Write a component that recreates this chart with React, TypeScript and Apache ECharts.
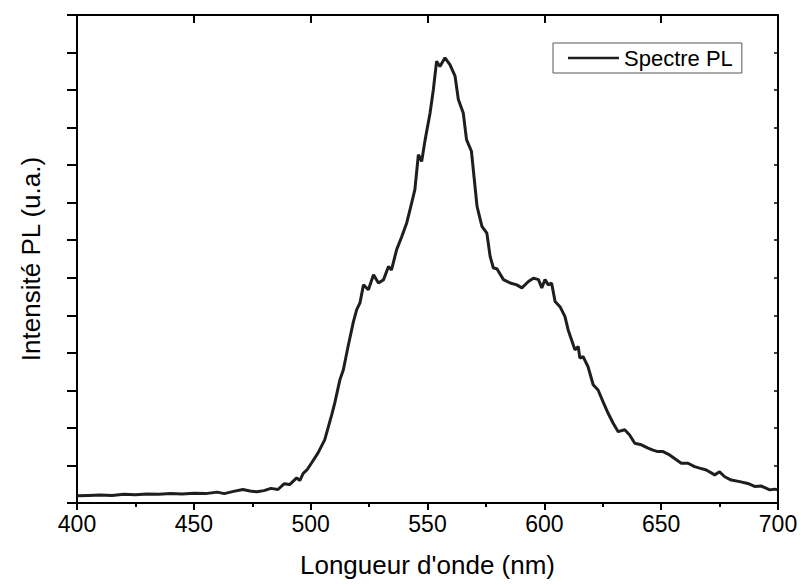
import React, { useEffect, useRef } from "react";
import * as echarts from "echarts";

const wavelengths: number[] = [
  400, 405, 410, 415, 420, 425, 430, 435, 440, 445, 450, 455, 460, 463, 467, 471, 474, 477, 480, 483,
  486, 488.6, 491, 494, 495.4, 496.8, 498.4, 500.3, 503.1, 506, 509, 510.3, 512.5, 514, 516, 518.3,
  519.7, 521.1, 522.6, 524.7, 526.9, 529, 531.2, 533.3, 534.6, 536.8, 539, 541.1, 542.5, 544.6, 546.1,
  547.5, 549, 551.1, 552.5, 553.9, 555.3, 557.5, 559.6, 561.8, 563.2, 565.3, 566.7, 568.8, 571.2, 573.3,
  575.4, 576.8, 578.2, 579.7, 582.5, 585.4, 588.2, 590.4, 593.2, 595.3, 597.5, 598.9, 600.3, 601.7,
  603.1, 604.6, 606.7, 608.8, 610.2, 613.1, 614.5, 615.2, 616.6, 618.7, 620.9, 623, 625.1, 627.3, 629.4,
  631.6, 634.4, 636.5, 638.7, 641.5, 644.4, 646.5, 648.6, 650.8, 653.6, 656.5, 658.6, 661.5, 664.3,
  666.5, 669.3, 672.9, 675, 677.2, 680, 683.6, 687.1, 690, 692.9, 696.5, 698.6, 700,
];

const intensities: number[] = [
  0.19, 0.2, 0.21, 0.2, 0.23, 0.22, 0.24, 0.23, 0.25, 0.24, 0.26, 0.25, 0.29, 0.25, 0.31, 0.36, 0.32,
  0.3, 0.33, 0.39, 0.36, 0.51, 0.49, 0.67, 0.6, 0.79, 0.88, 1.06, 1.33, 1.68, 2.35, 2.66, 3.28, 3.55,
  4.17, 4.83, 5.15, 5.33, 5.81, 5.68, 6.08, 5.86, 5.95, 6.3, 6.21, 6.75, 7.1, 7.46, 7.81, 8.35, 9.28,
  9.1, 9.68, 10.39, 11.01, 11.77, 11.63, 11.86, 11.68, 11.37, 10.75, 10.39, 9.68, 9.37, 7.9, 7.37,
  7.19, 6.57, 6.26, 6.24, 5.95, 5.86, 5.81, 5.73, 5.9, 5.99, 5.95, 5.73, 5.95, 5.81, 5.86, 5.37, 5.23,
  4.97, 4.61, 4.08, 4.17, 3.86, 3.9, 3.63, 3.15, 3.01, 2.7, 2.39, 2.13, 1.9, 1.95, 1.81, 1.59, 1.55,
  1.46, 1.41, 1.37, 1.37, 1.28, 1.15, 1.06, 1.06, 0.97, 0.93, 0.88, 0.75, 0.83, 0.7, 0.61, 0.57, 0.52,
  0.44, 0.45, 0.35, 0.37, 0.35,
];

const xTicks = [400, 450, 500, 550, 600, 650, 700];
const seriesName = "Spectre PL";
const xTitle = "Longueur d'onde (nm)";
const yTitle = "Intensité PL (u.a.)";

export default function App() {
  const ref = useRef<HTMLDivElement>(null);
  useEffect(() => {
    if (!ref.current) return;
    const chart = echarts.init(ref.current, undefined, { renderer: "svg" });
    const font = "Liberation Sans, Arial, sans-serif";
    const data = wavelengths.map((w, i) => [w, intensities[i]]);
    chart.setOption({
      animation: false,
      backgroundColor: "#ffffff",
      grid: { left: 77, right: 23, top: 15, bottom: 82, containLabel: false },
      legend: {
        show: true,
        left: 553,
        top: 43,
        orient: "horizontal",
        data: [{ name: seriesName, icon: "rect" }],
        itemWidth: 51,
        itemHeight: 2.5,
        padding: [4, 9, 4, 15],
        borderColor: "#555",
        borderWidth: 1,
        borderRadius: 0,
        itemStyle: { color: "#1e1e1e" },
        textStyle: { fontFamily: font, fontSize: 22, color: "#000", lineHeight: 22 },
      },
      xAxis: [
        {
          type: "value",
          position: "bottom",
          min: xTicks[0],
          max: xTicks[xTicks.length - 1],
          interval: 50,
          name: xTitle,
          nameLocation: "middle",
          nameGap: 49,
          nameTextStyle: { fontFamily: font, fontSize: 26, color: "#000" },
          axisLine: { show: true, onZero: false, lineStyle: { color: "#000", width: 2 } },
          axisTick: { show: true, inside: false, length: 7, lineStyle: { color: "#000", width: 2 } },
          minorTick: { show: true, splitNumber: 2, length: 4, lineStyle: { color: "#000", width: 2 } },
          axisLabel: { fontFamily: font, fontSize: 23, color: "#000", margin: 9 },
          splitLine: { show: false },
        },
        {
          type: "value",
          position: "top",
          min: xTicks[0],
          max: xTicks[xTicks.length - 1],
          interval: 50,
          axisLine: { show: true, onZero: false, lineStyle: { color: "#000", width: 2 } },
          axisTick: { show: true, inside: true, length: 8, lineStyle: { color: "#000", width: 2 } },
          axisLabel: { show: false },
          splitLine: { show: false },
        },
      ],
      yAxis: [
        {
          type: "value",
          position: "left",
          min: 0,
          max: 13,
          interval: 1,
          name: yTitle,
          nameLocation: "middle",
          nameGap: 33,
          nameTextStyle: { fontFamily: font, fontSize: 26, color: "#000" },
          axisLine: { show: true, onZero: false, lineStyle: { color: "#000", width: 2 } },
          axisTick: { show: true, inside: false, length: 10, lineStyle: { color: "#000", width: 2 } },
          axisLabel: { show: false },
          splitLine: { show: false },
        },
        {
          type: "value",
          position: "right",
          min: 0,
          max: 13,
          interval: 1,
          axisLine: { show: true, onZero: false, lineStyle: { color: "#000", width: 2 } },
          axisTick: { show: true, inside: true, length: 4, lineStyle: { color: "#000", width: 1.5 } },
          axisLabel: { show: false },
          splitLine: { show: false },
        },
      ],
      series: [
        {
          name: seriesName,
          type: "line",
          xAxisIndex: 0,
          yAxisIndex: 0,
          data,
          symbol: "none",
          showSymbol: false,
          smooth: false,
          lineStyle: { color: "#1e1e1e", width: 3 },
          itemStyle: { color: "#1e1e1e" },
        },
      ],
    });
    return () => chart.dispose();
  }, []);
  return (
    <div
      ref={ref}
      style={{ position: "fixed", left: 0, top: 0, width: 801, height: 585, background: "#fff" }}
    />
  );
}
